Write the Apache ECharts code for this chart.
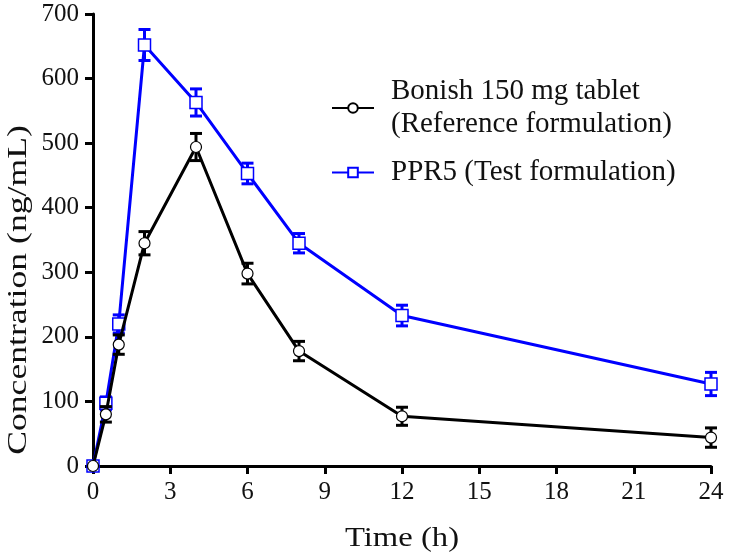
<!DOCTYPE html>
<html><head><meta charset="utf-8">
<script src="https://cdn.jsdelivr.net/npm/echarts@6/dist/echarts.min.js"></script>
<style>html,body{margin:0;padding:0;background:#fff}#c{width:735px;height:560px}</style>
</head><body><div id="c"></div>
<script>
const times = [0, 0.5, 1, 2, 4, 6, 8, 12, 24];
const refName = 'Bonish 150 mg tablet\n(Reference formulation)';
const testName = 'PPR5 (Test formulation)';
const refMean = [0, 80, 188, 345, 494, 298, 178, 77, 44];
const refErr  = [0, 12, 15, 18, 21, 16, 15, 14, 15];
const testMean = [0, 97, 220, 652, 563, 453, 345, 233, 127];
const testErr  = [0, 10, 14, 24, 21, 16, 15, 16, 18];
const xTitle = 'Time (h)';
const yTitle = 'Concentration (ng/mL)';

const font = 'Liberation Serif';
function pairs(m){ return times.map((t,i)=>[t,m[i]]); }
function errData(m,e){ return times.map((t,i)=>[t,m[i]-e[i],m[i]+e[i]]); }
function errSeries(m,e,color,z){
  return {
    type:'custom', z:z, silent:true, legendHoverLink:false,
    data: errData(m,e),
    renderItem(params, api){
      const x = api.value(0);
      const lo = api.coord([x, api.value(1)]);
      const hi = api.coord([x, api.value(2)]);
      const w = 6;
      const st = {stroke:color, lineWidth:3};
      return {type:'group', children:[
        {type:'line', shape:{x1:lo[0],y1:lo[1],x2:hi[0],y2:hi[1]}, style:st},
        {type:'line', shape:{x1:lo[0]-w,y1:lo[1],x2:lo[0]+w,y2:lo[1]}, style:st},
        {type:'line', shape:{x1:hi[0]-w,y1:hi[1],x2:hi[0]+w,y2:hi[1]}, style:st}
      ]};
    }
  };
}
const chart = echarts.init(document.getElementById('c'));
chart.setOption({
  animation:false,
  backgroundColor:'#fff',
  grid:{left:93, right:24, top:14, bottom:94},
  legend:{
    orient:'vertical', left:326, top:70, itemWidth:42, itemHeight:12, itemGap:15,
    data:[refName, testName],
    textStyle:{fontFamily:font, fontSize:29, color:'#111', lineHeight:33, padding:[0,0,0,12]}
  },
  graphic:[
    {type:'text', x:402, y:539, scaleX:1.21, style:{text:xTitle, font:'27px "Liberation Serif"', fill:'#111', align:'center', verticalAlign:'middle'}},
    {type:'text', x:19, y:290, rotation:Math.PI/2, scaleX:1.32, style:{text:yTitle, font:'27px "Liberation Serif"', fill:'#111', align:'center', verticalAlign:'middle'}}
  ],
  xAxis:{
    type:'value', min:0, max:24, interval:3,
    axisLine:{lineStyle:{color:'#000', width:3}},
    axisTick:{length:8, lineStyle:{width:3, color:'#000'}},
    axisLabel:{fontFamily:font, fontSize:25, color:'#111', margin:14},
    splitLine:{show:false}
  },
  yAxis:{
    type:'value', min:0, max:700, interval:100,
    axisLine:{show:true, lineStyle:{color:'#000', width:3}},
    axisTick:{show:true, length:8, lineStyle:{width:3, color:'#000'}},
    axisLabel:{fontFamily:font, fontSize:25, color:'#111', margin:14},
    splitLine:{show:false}
  },
  series:[
    errSeries(testMean,testErr,'#0000ff',2),
    {name:testName, type:'line', z:3, data:pairs(testMean), symbol:'rect', symbolSize:12,
     lineStyle:{color:'#0000ff', width:3}, itemStyle:{color:'#fff', borderColor:'#0000ff', borderWidth:1.5}},
    errSeries(refMean,refErr,'#000',4),
    {name:refName, type:'line', z:5, data:pairs(refMean), symbol:'circle', symbolSize:11,
     lineStyle:{color:'#000', width:3}, itemStyle:{color:'#fff', borderColor:'#000', borderWidth:1.2}}
  ]
});
</script></body></html>
